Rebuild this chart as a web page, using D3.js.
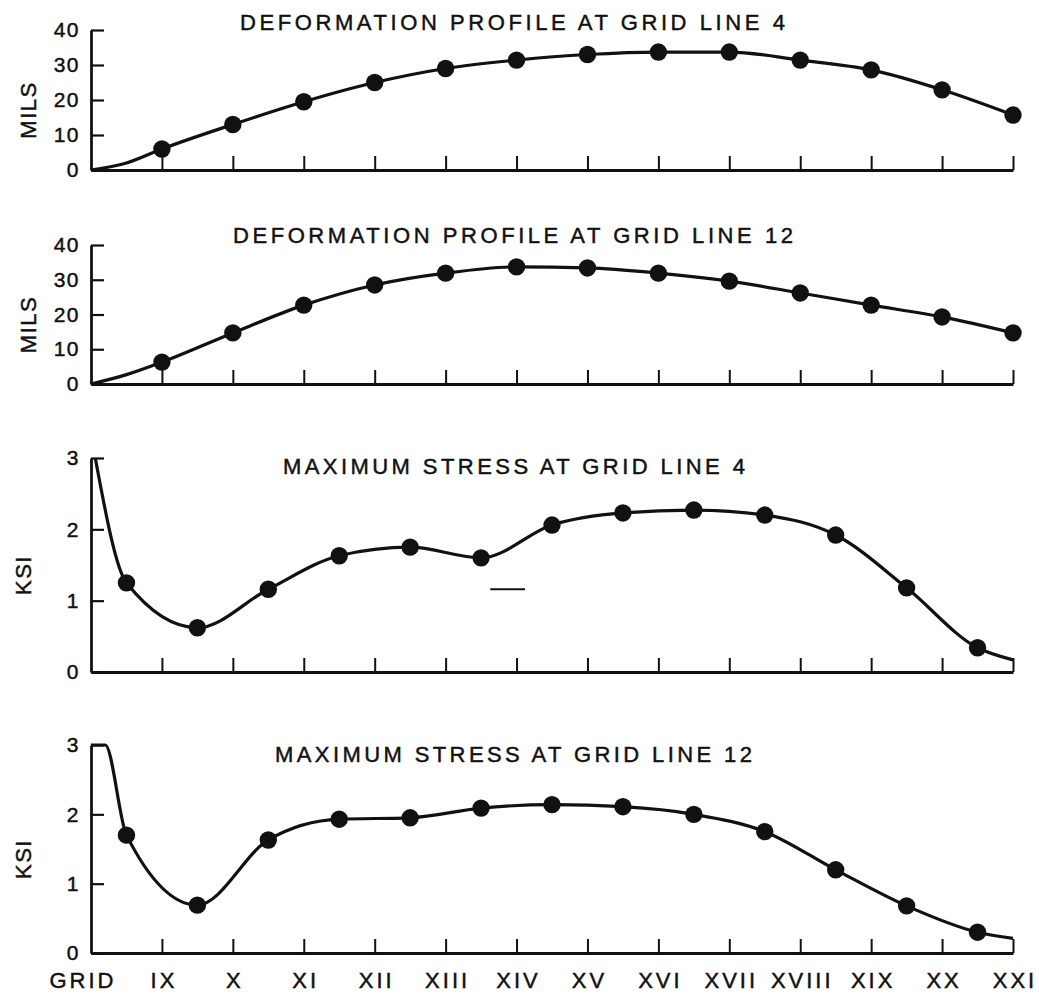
<!DOCTYPE html>
<html>
<head>
<meta charset="utf-8">
<script src="https://cdn.jsdelivr.net/npm/d3@7"></script>
<style>
body { margin: 0; background: #fff; }
text { font-family: "Liberation Sans", Arial, sans-serif; fill: #111; stroke: #111; stroke-width: 0.45; }
</style>
</head>
<body>
<svg id="chart" width="1039" height="999"></svg>
<script>
// grid lines along the x axis
var gridLabels = ["GRID", "IX", "X", "XI", "XII", "XIII", "XIV", "XV", "XVI", "XVII", "XVIII", "XIX", "XX", "XXI"];

// deformation in mils, measured at grid IX..XXI
var defo4 = [6, 13, 19.5, 25, 29, 31.4, 33, 33.7, 33.7, 31.4, 28.6, 22.9, 15.7];
var defo12 = [6.3, 14.7, 22.7, 28.5, 31.9, 33.7, 33.4, 31.9, 29.6, 26.2, 22.7, 19.3, 14.7];

// max stress in ksi, measured half way between grid lines
var stress4 = [1.25, 0.62, 1.16, 1.63, 1.75, 1.6, 2.06, 2.23, 2.27, 2.2, 1.92, 1.18, 0.34];
var stress12 = [1.7, 0.69, 1.63, 1.93, 1.95, 2.09, 2.14, 2.11, 2.0, 1.75, 1.2, 0.68, 0.3];

// where the curves start and stop beyond the dots [grid, value]
var defo4Ends = [[[0, 0], [0.5, 2]], []];
var defo12Ends = [[[0, 0], [0.5, 2.7]], []];
var stress4Ends = [[[0.06, 3]], [[13, 0.17]]];
var stress12Ends = [[[0, 3], [0.2, 3]], [[13, 0.21]]];

var mils = [0, 10, 20, 30, 40];
var ksi = [0, 1, 2, 3];

var svg = d3.select("#chart");
var x = d3.scaleLinear().domain([0, 13]).range([91, 1013]);

var panels = [
  { title: "DEFORMATION PROFILE AT GRID LINE 4", unit: "MILS", vals: defo4, ends: defo4Ends, shift: 0,
    ticks: mils, top: 30, bottom: 170, tx: 240, ty: 30, tlen: 545, ux: 36 },
  { title: "DEFORMATION PROFILE AT GRID LINE 12", unit: "MILS", vals: defo12, ends: defo12Ends, shift: 0,
    ticks: mils, top: 245, bottom: 384, tx: 233, ty: 243, tlen: 560, ux: 36 },
  { title: "MAXIMUM STRESS AT GRID LINE 4", unit: "KSI", vals: stress4, ends: stress4Ends, shift: 0.5,
    ticks: ksi, top: 458, bottom: 672, tx: 283, ty: 474, tlen: 462, ux: 31 },
  { title: "MAXIMUM STRESS AT GRID LINE 12", unit: "KSI", vals: stress12, ends: stress12Ends, shift: 0.5,
    ticks: ksi, top: 745, bottom: 953, tx: 275, ty: 762, tlen: 477, ux: 31 }
];

function drawPanel(p) {
  var max = p.ticks[p.ticks.length - 1];
  var y = d3.scaleLinear().domain([0, max]).range([p.bottom, p.top]);
  var g = svg.append("g");

  // x axis, ticks point up into the plot
  var xa = g.append("g")
    .attr("transform", "translate(0," + p.bottom + ")")
    .call(d3.axisBottom(x).tickValues(d3.range(1, 14)).tickSizeInner(-14).tickSizeOuter(0).tickFormat(""));
  xa.select(".domain").attr("stroke", "#111").attr("stroke-width", 2.8);
  xa.selectAll(".tick line").attr("stroke", "#111").attr("stroke-width", 2);

  // y axis, ticks point right
  var ya = g.append("g")
    .attr("transform", "translate(" + x(0) + ",0)")
    .call(d3.axisLeft(y).tickValues(p.ticks).tickFormat(d3.format("d"))
      .tickSizeInner(-13).tickSizeOuter(0).tickPadding(11));
  ya.select(".domain").attr("stroke", "#111").attr("stroke-width", 2.8);
  ya.selectAll(".tick line").attr("stroke", "#111").attr("stroke-width", 2.2);
  ya.selectAll(".tick text")
    .attr("font-family", "Liberation Sans, Arial, sans-serif")
    .attr("font-size", 21)
    .attr("letter-spacing", 1.5)
    .attr("fill", "#111");

  g.append("text")
    .attr("transform", "translate(" + p.ux + "," + ((p.top + p.bottom) / 2 + 10) + ") rotate(-90)")
    .attr("text-anchor", "middle")
    .attr("font-size", 22)
    .attr("letter-spacing", 1.5)
    .text(p.unit);

  g.append("text")
    .attr("x", p.tx)
    .attr("y", p.ty)
    .attr("font-size", 22)
    .attr("textLength", p.tlen)
    .attr("lengthAdjust", "spacing")
    .text(p.title);

  var dots = p.vals.map(function(v, i) { return [i + 1 - p.shift, v]; });
  var pts = p.ends[0].concat(dots).concat(p.ends[1]);

  var line = d3.line()
    .x(function(d) { return x(d[0]); })
    .y(function(d) { return y(d[1]); })
    .curve(d3.curveMonotoneX);

  g.append("path")
    .attr("d", line(pts))
    .attr("fill", "none")
    .attr("stroke", "#111")
    .attr("stroke-width", 3.2)
    .attr("stroke-linejoin", "round");

  g.selectAll("circle")
    .data(dots)
    .enter()
    .append("circle")
    .attr("cx", function(d) { return x(d[0]); })
    .attr("cy", function(d) { return y(d[1]); })
    .attr("r", 8.7)
    .attr("fill", "#111");

  return y;
}

var yStress4 = null;
panels.forEach(function(p, i) {
  var y = drawPanel(p);
  if (i == 2) yStress4 = y;
});

// stray dash printed in the stress panel
svg.append("line")
  .attr("x1", x(5.63)).attr("x2", x(6.12))
  .attr("y1", yStress4(1.16)).attr("y2", yStress4(1.16))
  .attr("stroke", "#111")
  .attr("stroke-width", 2);

// grid line names under the bottom panel
svg.append("g")
  .selectAll("text")
  .data(gridLabels)
  .enter()
  .append("text")
  .attr("x", function(d, i) { return i == 0 ? x(i) - 8 : x(i) + 2; })
  .attr("y", 988)
  .attr("text-anchor", "middle")
  .attr("font-size", 22)
  .attr("letter-spacing", 3)
  .text(function(d) { return d; });
</script>
</body>
</html>
